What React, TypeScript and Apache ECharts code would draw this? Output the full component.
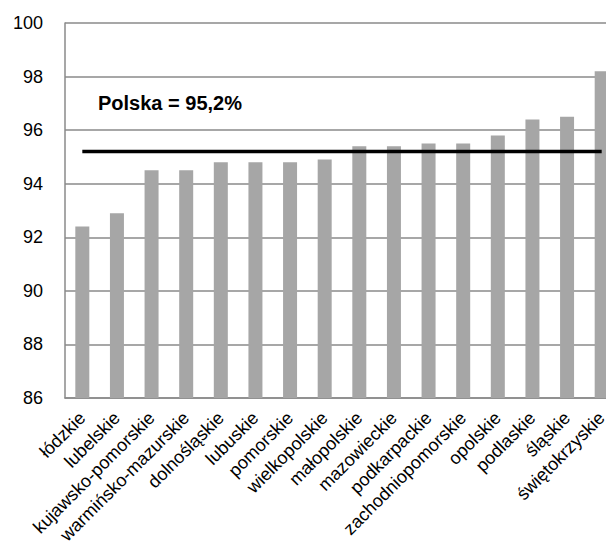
import React, { useEffect, useRef } from "react";
import * as echarts from "echarts";

const categories = [
  "łódzkie",
  "lubelskie",
  "kujawsko-pomorskie",
  "warmińsko-mazurskie",
  "dolnośląskie",
  "lubuskie",
  "pomorskie",
  "wielkopolskie",
  "małopolskie",
  "mazowieckie",
  "podkarpackie",
  "zachodniopomorskie",
  "opolskie",
  "podlaskie",
  "śląskie",
  "świętokrzyskie",
];
const values = [92.4, 92.9, 94.5, 94.5, 94.8, 94.8, 94.8, 94.9, 95.4, 95.4, 95.5, 95.5, 95.8, 96.4, 96.5, 98.2];
const polskaValue = 95.2;
const polskaLabel = "Polska = 95,2%";
const yMin = 86;
const yMax = 100;
const yInterval = 2;

export default function App() {
  const ref = useRef<HTMLDivElement>(null);
  useEffect(() => {
    if (!ref.current) return;
    const chart = echarts.init(ref.current, null, { renderer: "svg" });
    const font = '"Liberation Sans", Arial, sans-serif';
    chart.setOption({
      animation: false,
      backgroundColor: "#fff",
      grid: {
        left: 65,
        top: 23,
        right: -13,
        bottom: 147,
        containLabel: false,
        outerBoundsMode: "none",
      },
      xAxis: {
        type: "category",
        data: categories,
        axisLine: { show: true, lineStyle: { color: "#8a8a8a", width: 1.5 } },
        axisTick: { show: false },
        axisLabel: {
          interval: 0,
          rotate: 45,
          fontSize: 18,
          fontFamily: font,
          color: "#000",
          margin: 17,
        },
      },
      yAxis: {
        type: "value",
        min: yMin,
        max: yMax,
        interval: yInterval,
        axisLine: { show: true, lineStyle: { color: "#8a8a8a", width: 1.5 } },
        axisTick: { show: false },
        splitLine: { show: true, lineStyle: { color: "#8a8a8a", width: 1.5 } },
        axisLabel: { fontSize: 18, fontFamily: font, color: "#000", margin: 22 },
      },
      series: [
        {
          type: "bar",
          data: values,
          barWidth: 14,
          itemStyle: { color: "#a6a6a6" },
        },
        {
          type: "line",
          data: categories.map(() => polskaValue),
          symbol: "none",
          lineStyle: { color: "#000", width: 3.5 },
        },
      ],
      graphic: [
        {
          type: "text",
          x: 98,
          y: 103,
          style: {
            text: polskaLabel,
            font: `bold 20px ${font}`,
            fill: "#000",
            verticalAlign: "middle",
          },
        },
      ],
    });
    return () => chart.dispose();
  }, []);
  return (
    <div
      ref={ref}
      style={{ position: "fixed", left: 0, top: 0, width: 606, height: 545 }}
    />
  );
}
